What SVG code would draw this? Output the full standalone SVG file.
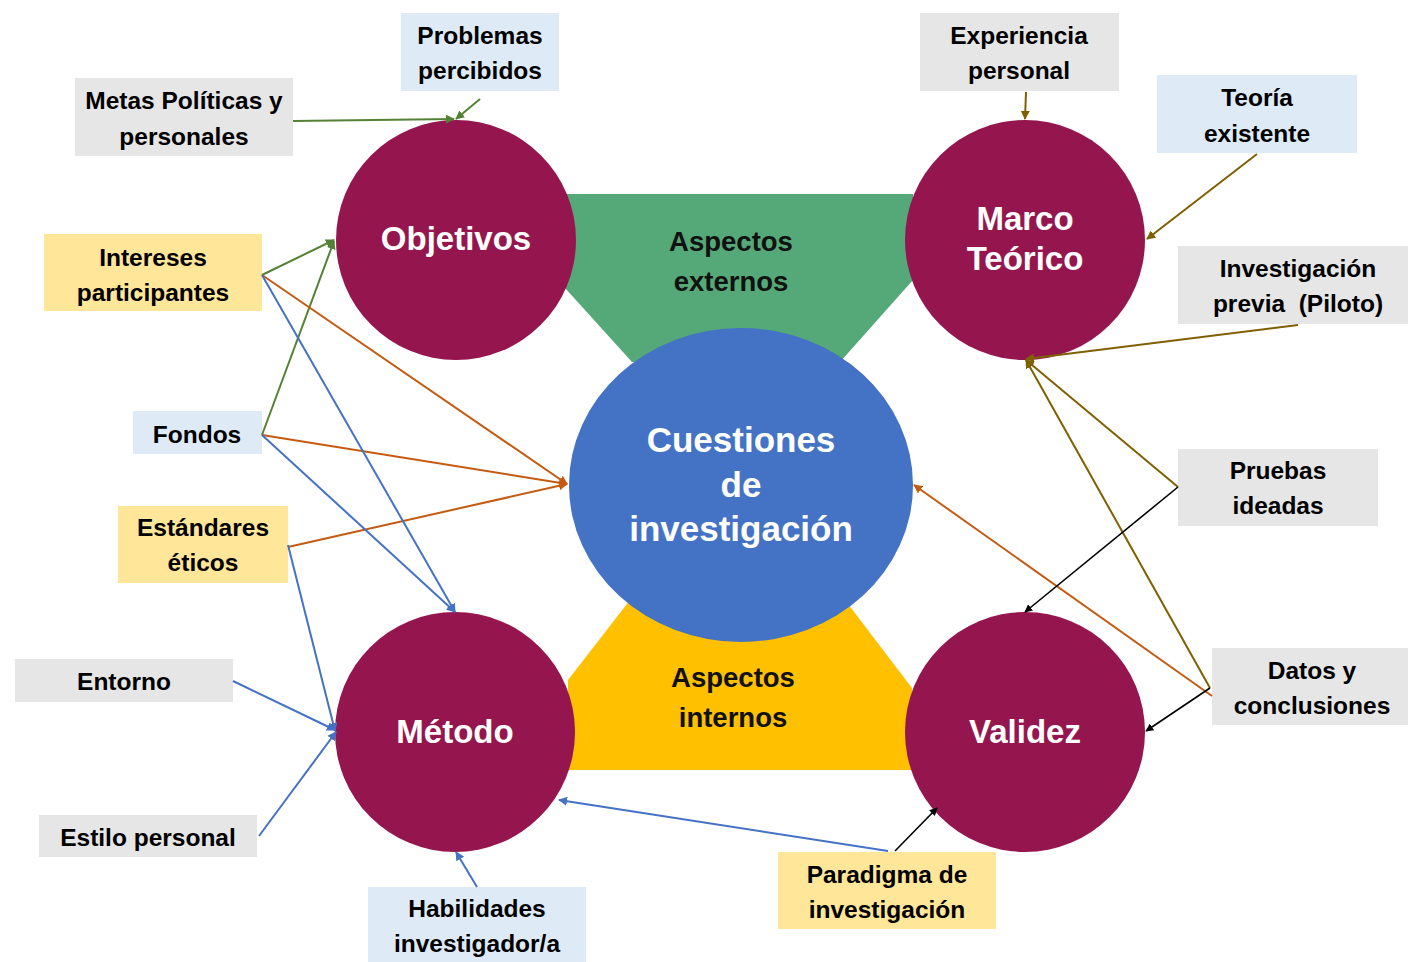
<svg xmlns="http://www.w3.org/2000/svg" width="1408" height="962" viewBox="0 0 1408 962">
<style>
.lbl{font-family:"Liberation Sans",Arial,sans-serif;font-weight:bold;font-size:24.5px;fill:#000;text-anchor:middle}
.cir{font-family:"Liberation Sans",Arial,sans-serif;font-weight:bold;font-size:33px;fill:#fff;text-anchor:middle}
.cq{font-family:"Liberation Sans",Arial,sans-serif;font-weight:bold;font-size:35px;fill:#fff;text-anchor:middle}
.asp{font-family:"Liberation Sans",Arial,sans-serif;font-weight:bold;font-size:27.5px;fill:#111;text-anchor:middle}
.gray{fill:#E6E6E6}.blue{fill:#DEEBF7}.yel{fill:#FFE699}
.node{fill:#95164E}
.g{stroke:#548235;stroke-width:2;fill:none;marker-end:url(#ag)}
.o{stroke:#C55A11;stroke-width:2;fill:none;marker-end:url(#ao)}
.b{stroke:#4472C4;stroke-width:2;fill:none;marker-end:url(#ab)}
.v{stroke:#7F6000;stroke-width:2;fill:none;marker-end:url(#av)}
.k{stroke:#000;stroke-width:1.6;fill:none;marker-end:url(#ak)}
</style>
<defs>
<marker id="ag" viewBox="0 0 10 10" refX="9" refY="5" markerWidth="4.5" markerHeight="4.5" orient="auto"><path d="M0,0L10,5L0,10z" fill="#548235"/></marker>
<marker id="ao" viewBox="0 0 10 10" refX="9" refY="5" markerWidth="4.5" markerHeight="4.5" orient="auto"><path d="M0,0L10,5L0,10z" fill="#C55A11"/></marker>
<marker id="ab" viewBox="0 0 10 10" refX="9" refY="5" markerWidth="4.5" markerHeight="4.5" orient="auto"><path d="M0,0L10,5L0,10z" fill="#4472C4"/></marker>
<marker id="av" viewBox="0 0 10 10" refX="9" refY="5" markerWidth="4.5" markerHeight="4.5" orient="auto"><path d="M0,0L10,5L0,10z" fill="#7F6000"/></marker>
<marker id="ak" viewBox="0 0 10 10" refX="9" refY="5" markerWidth="5" markerHeight="5" orient="auto"><path d="M0,0L10,5L0,10z" fill="#000"/></marker>
</defs>
<rect width="1408" height="962" fill="#fff"/>

<g id="aspectos-externos">
<polygon points="565,194 913,194 913,280 840,362 632,362 565,288" fill="#55A878"/>
</g>
<g id="aspectos-internos">
<polygon points="630,600 845,600 912,688 912,770 568,770 568,680" fill="#FFC000"/>
</g>

<g id="cuestiones">
<ellipse cx="741" cy="485" rx="172" ry="157" fill="#4472C4"/>
<text class="cq" x="741" y="452">Cuestiones</text>
<text class="cq" x="741" y="497">de</text>
<text class="cq" x="741" y="541">investigación</text>
</g>
<g id="label-externos">
<text class="asp" x="731" y="251">Aspectos</text>
<text class="asp" x="731" y="291">externos</text>
</g>
<g id="label-internos">
<text class="asp" x="733" y="687">Aspectos</text>
<text class="asp" x="733" y="727">internos</text>
</g>

<g id="objetivos"><circle class="node" cx="456" cy="240" r="120"/><text class="cir" x="456" y="250">Objetivos</text></g>
<g id="marco"><circle class="node" cx="1025" cy="240" r="120"/><text class="cir" x="1025" y="230">Marco</text><text class="cir" x="1025" y="270">Teórico</text></g>
<g id="metodo"><circle class="node" cx="455" cy="732" r="120"/><text class="cir" x="455" y="743">Método</text></g>
<g id="validez"><circle class="node" cx="1025" cy="732" r="120"/><text class="cir" x="1025" y="743">Validez</text></g>

<g id="problemas"><rect class="blue" x="401" y="13" width="158" height="78"/><text class="lbl" x="480" y="44">Problemas</text><text class="lbl" x="480" y="79">percibidos</text></g>
<g id="metas"><rect class="gray" x="75" y="78" width="218" height="78"/><text class="lbl" x="184" y="109">Metas Políticas y</text><text class="lbl" x="184" y="145">personales</text></g>
<g id="experiencia"><rect class="gray" x="920" y="13" width="199" height="78"/><text class="lbl" x="1019" y="44">Experiencia</text><text class="lbl" x="1019" y="79">personal</text></g>
<g id="teoria"><rect class="blue" x="1157" y="75" width="200" height="78"/><text class="lbl" x="1257" y="106">Teoría</text><text class="lbl" x="1257" y="142">existente</text></g>
<g id="investigacion"><rect class="gray" x="1178" y="246" width="230" height="78"/><text class="lbl" x="1298" y="277">Investigación</text><text class="lbl" x="1298" y="312" xml:space="preserve">previa  (Piloto)</text></g>
<g id="intereses"><rect class="yel" x="44" y="234" width="218" height="77"/><text class="lbl" x="153" y="266">Intereses</text><text class="lbl" x="153" y="301">participantes</text></g>
<g id="fondos"><rect class="blue" x="133" y="411" width="129" height="43"/><text class="lbl" x="197" y="443">Fondos</text></g>
<g id="estandares"><rect class="yel" x="118" y="506" width="170" height="77"/><text class="lbl" x="203" y="536">Estándares</text><text class="lbl" x="203" y="571">éticos</text></g>
<g id="pruebas"><rect class="gray" x="1178" y="449" width="200" height="77"/><text class="lbl" x="1278" y="479">Pruebas</text><text class="lbl" x="1278" y="514">ideadas</text></g>
<g id="datos"><rect class="gray" x="1212" y="648" width="196" height="77"/><text class="lbl" x="1312" y="679">Datos y</text><text class="lbl" x="1312" y="714">conclusiones</text></g>
<g id="entorno"><rect class="gray" x="15" y="659" width="218" height="43"/><text class="lbl" x="124" y="690">Entorno</text></g>
<g id="estilo"><rect class="gray" x="39" y="815" width="218" height="42"/><text class="lbl" x="148" y="846">Estilo personal</text></g>
<g id="habilidades"><rect class="blue" x="368" y="887" width="218" height="75"/><text class="lbl" x="477" y="917">Habilidades</text><text class="lbl" x="477" y="952">investigador/a</text></g>
<g id="paradigma"><rect class="yel" x="778" y="852" width="218" height="77"/><text class="lbl" x="887" y="883">Paradigma de</text><text class="lbl" x="887" y="918">investigación</text></g>

<g id="connectors">
<line class="g" x1="480" y1="99" x2="456" y2="119"/>
<line class="g" x1="293" y1="121" x2="454" y2="119"/>
<line class="g" x1="262" y1="275" x2="334" y2="240"/>
<line class="g" x1="262" y1="435" x2="334" y2="241"/>
<line class="o" x1="262" y1="275" x2="567" y2="484"/>
<line class="o" x1="262" y1="435" x2="567" y2="484"/>
<line class="o" x1="288" y1="547" x2="567" y2="484"/>
<line class="o" x1="1212" y1="696" x2="914" y2="485"/>
<line class="b" x1="262" y1="275" x2="455" y2="612"/>
<line class="b" x1="262" y1="435" x2="455" y2="612"/>
<line class="b" x1="288" y1="545" x2="335" y2="731"/>
<line class="b" x1="233" y1="681" x2="335" y2="730"/>
<line class="b" x1="259" y1="836" x2="336" y2="732"/>
<line class="b" x1="477" y1="887" x2="456" y2="852"/>
<line class="b" x1="888" y1="851" x2="559" y2="800"/>
<line class="v" x1="1026" y1="92" x2="1025" y2="119"/>
<line class="v" x1="1257" y1="154" x2="1147" y2="239"/>
<line class="v" x1="1298" y1="325" x2="1026" y2="359"/>
<line class="v" x1="1178" y1="487" x2="1026" y2="360"/>
<line class="v" x1="1210" y1="688" x2="1026" y2="360"/>
<line class="k" x1="1178" y1="487" x2="1025" y2="612"/>
<line class="k" x1="1210" y1="688" x2="1146" y2="731"/>
<line class="k" x1="895" y1="851" x2="937" y2="808"/>
</g>
</svg>
